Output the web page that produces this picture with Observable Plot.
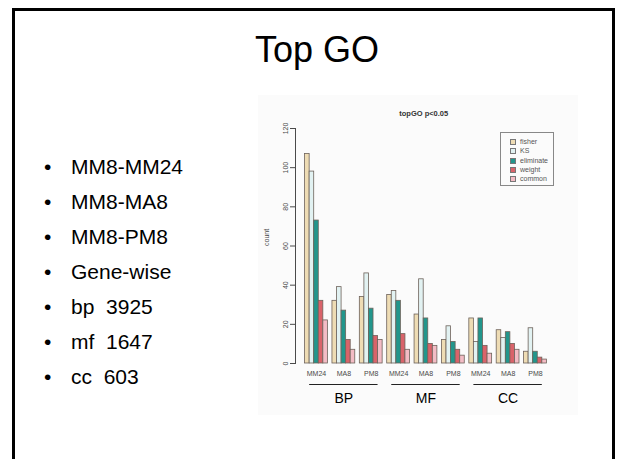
<!DOCTYPE html>
<html>
<head>
<meta charset="utf-8">
<script src="https://cdn.jsdelivr.net/npm/d3@7"></script>
<script src="https://cdn.jsdelivr.net/npm/@observablehq/plot@0.6"></script>
<style>
  html, body { margin: 0; padding: 0; background: #fff; }
  body { width: 621px; height: 459px; position: relative; overflow: hidden; font-family: "Liberation Sans", Arial, sans-serif; }
  #frame { position: absolute; left: 12px; top: 8px; width: 597px; height: 480px; border: 3px solid #000; }
  #title { position: absolute; left: 0; width: 634px; top: 30px; text-align: center; font-size: 36px; line-height: 40px; color: #000; }
  #bullets { position: absolute; left: 44px; top: 149px; margin: 0; padding: 0; list-style: none; font-size: 21px; line-height: 35px; color: #000; }
  #bullets li { white-space: pre; position: relative; padding-left: 27px; }
  #bullets li::before { content: "\2022"; position: absolute; left: 0; }
  #chart { position: absolute; left: 258px; top: 95px; }
  #legend { position: absolute; left: 500px; top: 132px; width: 54px; height: 54px; border: 1px solid #888; box-sizing: border-box; font-size: 7px; color: #555; }
  #legend div { position: absolute; left: 19px; height: 9px; line-height: 9px; }
  #legend span { position: absolute; left: -10px; top: 2px; width: 4px; height: 4px; border: 1px solid #777; }
</style>
</head>
<body>
<div id="frame"></div>
<div id="title">Top GO</div>
<ul id="bullets"></ul>
<div id="chart"></div>
<div id="legend"></div>
<script>
// ---- data ----
const bulletItems = ["MM8-MM24", "MM8-MA8", "MM8-PM8", "Gene-wise", "bp  3925", "mf  1647", "cc  603"];
const ontologies = ["BP", "MF", "CC"];
const comparisons = ["MM24", "MA8", "PM8"];
const methods = ["fisher", "KS", "eliminate", "weight", "common"];
const methodColors = ["#eedcb4", "#e2f2f2", "#22968c", "#d9636a", "#f3bcc5"];
const yTicks = [0, 20, 40, 60, 80, 100, 120];
const chartTitle = "topGO p<0.05";
const yLabel = "count";
// values per group: BP-MM24, BP-MA8, BP-PM8, MF-MM24, MF-MA8, MF-PM8, CC-MM24, CC-MA8, CC-PM8
const fisher    = [107, 32, 34, 35, 25, 12, 23, 17, 6];
const ks        = [ 98, 39, 46, 37, 43, 19, 11, 13, 18];
const eliminate = [ 73, 27, 28, 32, 23, 11, 23, 16, 6];
const weight    = [ 32, 12, 14, 15, 10,  7,  9, 10, 3];
const common    = [ 22,  7, 12,  7,  9,  4,  5,  7, 2];
const series = [fisher, ks, eliminate, weight, common];

// ---- page text ----
const ul = document.getElementById("bullets");
bulletItems.forEach(t => { const li = document.createElement("li"); li.textContent = t; ul.appendChild(li); });

// ---- build table ----
const groupRows = [];
ontologies.forEach(o => comparisons.forEach(c => groupRows.push({ key: o + "-" + c, ontology: o, comparison: c })));
const rows = [];
groupRows.forEach((g, k) => methods.forEach((m, j) => rows.push({ slot: g.key + "|" + m, method: m, value: series[j][k] })));
const xDomain = groupRows.flatMap(g => [g.key + "|gap", ...methods.map(m => g.key + "|" + m)]);
const ontRows = ontologies.map(o => ({
  label: o,
  first: o + "-" + comparisons[0] + "|" + methods[1],
  last: o + "-" + comparisons[2] + "|" + methods[3],
  mid: o + "-" + comparisons[1] + "|" + methods[2]
}));

const txt = "#4a4a4a";
const plot = Plot.plot({
  width: 320,
  height: 320,
  marginLeft: 37,
  marginRight: 26.6,
  marginTop: 33,
  marginBottom: 52,
  style: { fontFamily: "'Liberation Sans', Arial, sans-serif", fontSize: "7px", background: "#fbfbfb", color: txt },
  x: { domain: xDomain, paddingInner: 0, paddingOuter: 1.1, axis: null },
  y: { domain: [0, 120], ticks: yTicks, tickSize: 5, tickPadding: 3, tickRotate: -90, line: true, label: null },
  color: { domain: methods, range: methodColors },
  marks: [
    Plot.barY(rows, { x: "slot", y: "value", fill: "method", stroke: "#6d625a", strokeWidth: 0.8 }),
    Plot.text(groupRows, { x: d => d.key + "|" + methods[2], text: "comparison", frameAnchor: "bottom", dy: 12, fontSize: 7, fill: txt }),
    Plot.ruleY(ontRows, { y: () => 0, x1: "first", x2: "last", dy: 21, stroke: "#222", strokeWidth: 1 }),
    Plot.text(ontRows, { x: "mid", text: "label", frameAnchor: "bottom", dy: 39, fontSize: 14, fill: "#000" }),
    Plot.text([chartTitle], { text: d => d, frameAnchor: "top", dy: -18, fontSize: 7.5, fontWeight: "bold", fill: "#333" }),
    Plot.text([yLabel], { text: d => d, frameAnchor: "left", dx: -29, rotate: -90, fontSize: 7, fill: txt })
  ]
});
document.getElementById("chart").appendChild(plot);

// ---- legend ----
const lg = document.getElementById("legend");
methods.forEach((m, i) => {
  const d = document.createElement("div");
  d.style.top = (4 + i * 9.3) + "px";
  const s = document.createElement("span");
  s.style.background = methodColors[i];
  d.appendChild(s);
  d.appendChild(document.createTextNode(m));
  lg.appendChild(d);
});
</script>
</body>
</html>
